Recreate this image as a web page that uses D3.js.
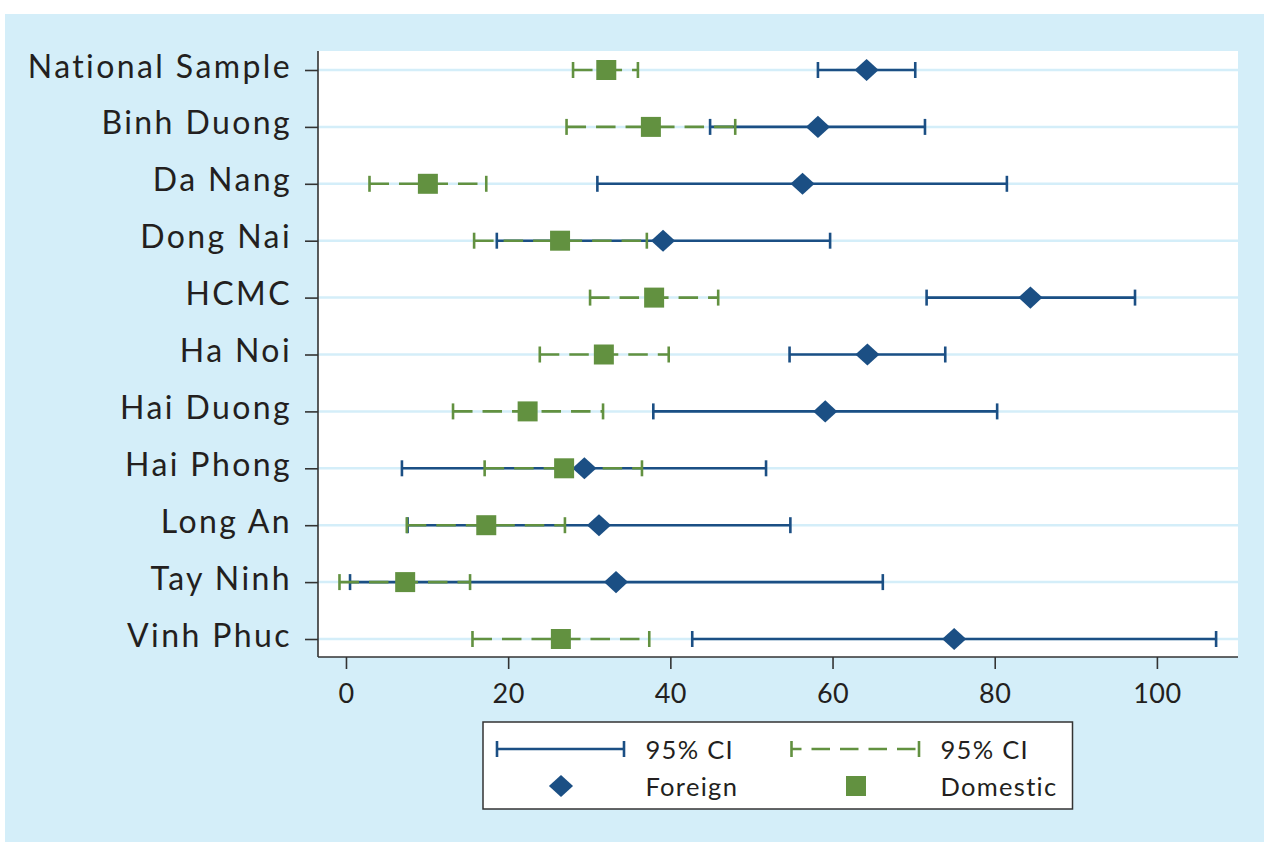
<!DOCTYPE html>
<html lang="en">
<head>
    <meta charset="utf-8" />
    <script src="https://d3js.org/d3.v7.min.js"></script>
    <style>
        body { margin: 0; background: #fff; }
        text { font-family: Lato, "Open Sans", sans-serif; fill: #231f20; }
    </style>
</head>
<body>
    <script>
        // regions, top to bottom
        const regions = ["National Sample", "Binh Duong", "Da Nang", "Dong Nai", "HCMC", "Ha Noi",
            "Hai Duong", "Hai Phong", "Long An", "Tay Ninh", "Vinh Phuc"];

        // foreign firms: estimate with 95% CI
        const foreign   = [64.2, 58.2, 56.3, 39.1, 84.4, 64.3, 59.1, 29.4, 31.2, 33.3, 75.0];
        const foreignLo = [58.2, 44.9, 31.0, 18.6, 71.6, 54.7, 37.9, 6.9, 7.6, 0.5, 42.7];
        const foreignHi = [70.2, 71.4, 81.5, 59.7, 97.3, 73.9, 80.3, 51.8, 54.8, 66.2, 107.3];

        // domestic firms
        const domestic   = [32.1, 37.6, 10.1, 26.4, 38.0, 31.8, 22.4, 26.9, 17.3, 7.3, 26.5];
        const domesticLo = [28.0, 27.2, 2.9, 15.8, 30.1, 23.9, 13.2, 17.1, 7.5, -0.8, 15.6];
        const domesticHi = [36.0, 48.0, 17.3, 37.1, 45.9, 39.8, 31.7, 36.5, 27.0, 15.3, 37.4];

        const xTicks = [0, 20, 40, 60, 80, 100];

        const w = 1264;
        const h = 842;
        const blue = "#1b4f84";
        const green = "#629140";
        const bg = "#d4eef9";

        const plot = { left: 318, right: 1238, top: 51, bottom: 657 };

        const svg = d3.select("body")
            .append("svg")
            .attr("width", w)
            .attr("height", h)

        svg.append("rect")
            .attr("x", 5).attr("y", 14)
            .attr("width", w - 5).attr("height", h - 14)
            .style("fill", bg)

        svg.append("rect")
            .attr("x", plot.left).attr("y", plot.top)
            .attr("width", plot.right - plot.left).attr("height", plot.bottom - plot.top)
            .style("fill", "#fff")

        const xScale = d3.scaleLinear()
            .domain([-3.45, 110])
            .range([plot.left, plot.right])

        const yScale = d3.scalePoint()
            .domain(regions)
            .range([70, 639])

        // grid lines
        svg.append("g")
            .selectAll("line")
            .data(regions)
            .join("line")
            .attr("x1", plot.left).attr("x2", plot.right)
            .attr("y1", d => yScale(d)).attr("y2", d => yScale(d))
            .style("stroke", bg)
            .style("stroke-width", 2.5)

        const yAxis = d3.axisLeft(yScale).tickSize(13).tickPadding(13);
        const xAxis = d3.axisBottom(xScale).tickValues(xTicks).tickSize(12).tickPadding(15);

        const gy = svg.append("g")
            .attr("transform", "translate(" + plot.left + ",0)")
            .call(yAxis)
        gy.select(".domain").attr("d", "M0," + plot.top + "V" + plot.bottom)
        gy.selectAll("text")
            .style("font-size", "32px")
            .style("letter-spacing", "2.4px")
            .attr("dy", 7)

        const gx = svg.append("g")
            .attr("transform", "translate(0," + plot.bottom + ")")
            .call(xAxis)
        gx.select(".domain").attr("d", "M" + plot.left + ",0H" + plot.right)
        gx.selectAll("text").style("font-size", "27px").style("letter-spacing", "0.5px")

        svg.selectAll(".domain, .tick line")
            .style("stroke", "#333")
            .style("stroke-width", 1.6)

        const rows = regions.map((r, i) => ({
            region: r,
            f: foreign[i], fLo: foreignLo[i], fHi: foreignHi[i],
            d: domestic[i], dLo: domesticLo[i], dHi: domesticHi[i]
        }));

        const cap = 8;

        function drawCI(sel, lo, hi, color, dash) {
            const g = sel.append("g").style("stroke", color).style("stroke-width", 2.6).style("fill", "none");
            g.selectAll("line.bar")
                .data(rows)
                .join("line")
                .attr("class", "bar")
                .attr("x1", d => xScale(d[lo])).attr("x2", d => xScale(d[hi]))
                .attr("y1", d => yScale(d.region)).attr("y2", d => yScale(d.region))
                .style("stroke-dasharray", dash)
            g.selectAll("line.lo")
                .data(rows)
                .join("line")
                .attr("class", "lo")
                .attr("x1", d => xScale(d[lo])).attr("x2", d => xScale(d[lo]))
                .attr("y1", d => yScale(d.region) - cap).attr("y2", d => yScale(d.region) + cap)
            g.selectAll("line.hi")
                .data(rows)
                .join("line")
                .attr("class", "hi")
                .attr("x1", d => xScale(d[hi])).attr("x2", d => xScale(d[hi]))
                .attr("y1", d => yScale(d.region) - cap).attr("y2", d => yScale(d.region) + cap)
        }

        drawCI(svg, "fLo", "fHi", blue, null);
        drawCI(svg, "dLo", "dHi", green, "19.5,10");

        // diamond = square turned 45deg, a bit wider than tall
        const diamond = d3.symbol().type(d3.symbolSquare).size(245);
        const square = d3.symbol().type(d3.symbolSquare).size(400);

        svg.append("g")
            .selectAll("path")
            .data(rows)
            .join("path")
            .attr("d", diamond)
            .attr("transform", d => "translate(" + xScale(d.f) + "," + yScale(d.region) + ") scale(1.09,1) rotate(45)")
            .style("fill", blue)

        svg.append("g")
            .selectAll("path")
            .data(rows)
            .join("path")
            .attr("d", square)
            .attr("transform", d => "translate(" + xScale(d.d) + "," + yScale(d.region) + ")")
            .style("fill", green)

        // Legend
        const legend = svg.append("g")

        legend.append("rect")
            .attr("x", 483).attr("y", 722)
            .attr("width", 589.5).attr("height", 87)
            .style("fill", "#fff")
            .style("stroke", "#333")
            .style("stroke-width", 1.5)

        const legendLine = (x1, x2, y, color, dash) => {
            legend.append("line")
                .attr("x1", x1).attr("x2", x2).attr("y1", y).attr("y2", y)
                .style("stroke", color).style("stroke-width", 2.6)
                .style("stroke-dasharray", dash)
            ;[x1, x2].forEach(x => legend.append("line")
                .attr("x1", x).attr("x2", x).attr("y1", y - cap).attr("y2", y + cap)
                .style("stroke", color).style("stroke-width", 2.6))
        }

        legendLine(497, 624, 749, blue, null);
        legendLine(791.5, 919, 749, green, "10,10,18.5,10,18.5,10,18.5,10,18.5,10");

        legend.append("path")
            .attr("d", diamond)
            .attr("transform", "translate(561,786) scale(1.09,1) rotate(45)")
            .style("fill", blue)

        legend.append("path")
            .attr("d", square)
            .attr("transform", "translate(856,786)")
            .style("fill", green)

        const legendText = [["95% CI", 645.5, 759], ["95% CI", 940.5, 759], ["Foreign", 645.5, 796], ["Domestic", 940.5, 796]];
        legend.selectAll("text.lt")
            .data(legendText)
            .join("text")
            .attr("class", "lt")
            .attr("x", d => d[1]).attr("y", d => d[2])
            .style("font-size", "25.5px")
            .style("letter-spacing", "1.3px")
            .text(d => d[0])

    </script>
</body>
</html>
